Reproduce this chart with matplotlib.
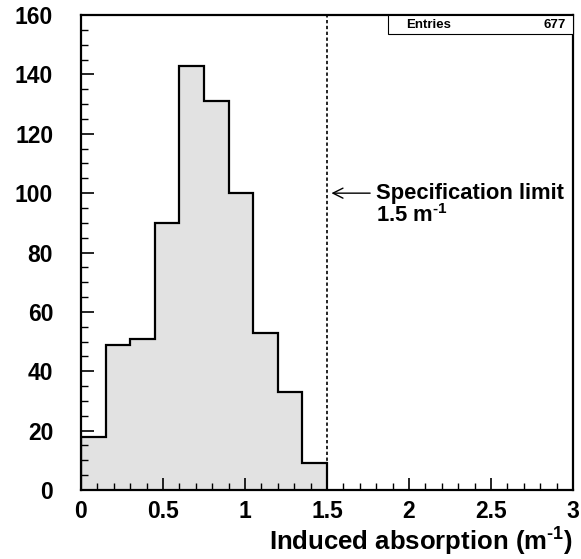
import matplotlib.pyplot as plt
from matplotlib.patches import Rectangle
from matplotlib.ticker import MultipleLocator
import numpy as np

# Data -----
bin_edges = [0, 0.15, 0.3, 0.45, 0.6, 0.75, 0.9, 1.05, 1.2, 1.35, 1.5]
counts = [18, 49, 51, 90, 143, 131, 100, 53, 33, 9]
entries = 677
spec_limit = 1.5

plt.rcParams['font.family'] = ['Liberation Sans', 'DejaVu Sans']
plt.rcParams['font.weight'] = 'bold'
plt.rcParams['mathtext.fontset'] = 'custom'
plt.rcParams['mathtext.rm'] = 'Liberation Sans:bold'
plt.rcParams['mathtext.bf'] = 'Liberation Sans:bold'

fig = plt.figure(figsize=(5.81, 5.59), dpi=100)
ax = fig.add_axes([0.1394, 0.1234, 0.8468, 0.8497])

# Histogram -----
ax.stairs(counts, bin_edges, fill=True, color='#e2e2e2')
ax.stairs(counts, bin_edges, color='black', linewidth=1.6, baseline=None)
ax.plot([bin_edges[0], bin_edges[0]], [0, counts[0]], color='black', linewidth=1.6)
ax.plot([bin_edges[-1], bin_edges[-1]], [0, counts[-1]], color='black', linewidth=1.6)

# Specification limit -----
ax.axvline(spec_limit, color='black', linewidth=1.2, linestyle=(0, (2, 1.5)))
ax.annotate('', xy=(1.51, 100), xytext=(1.78, 100),
            arrowprops=dict(arrowstyle='->', color='black', linewidth=1.0,
                            mutation_scale=18))
ax.text(1.8, 100, 'Specification limit', fontsize=15.8, fontweight='bold',
        va='center', ha='left')
ax.text(1.8, 92.5, r'1.5 m$^{\text{-1}}$', fontsize=15.8, fontweight='bold',
        va='center', ha='left')

# Stats box -----
ax.add_patch(Rectangle((0.623, 0.96), 0.377, 0.04, transform=ax.transAxes,
                       facecolor='white', edgecolor='black', linewidth=0.8,
                       clip_on=False, zorder=5))
ax.text(0.66, 0.98, 'Entries', transform=ax.transAxes, fontsize=9.5,
        fontweight='bold', va='center', ha='left', zorder=6)
ax.text(0.985, 0.98, str(entries), transform=ax.transAxes, fontsize=9.5,
        fontweight='bold', va='center', ha='right', zorder=6)

# Axes -----
ax.set_xlim(0, 3)
ax.set_ylim(0, 160)
ax.xaxis.set_major_locator(MultipleLocator(0.5))
ax.xaxis.set_minor_locator(MultipleLocator(0.1))
ax.yaxis.set_major_locator(MultipleLocator(20))
ax.yaxis.set_minor_locator(MultipleLocator(5))
ax.set_xticks([0, 0.5, 1, 1.5, 2, 2.5, 3])
ax.set_xticklabels(['0', '0.5', '1', '1.5', '2', '2.5', '3'])
ax.tick_params(which='both', direction='in', labelsize=16.5)
ax.tick_params(which='major', length=9, width=1.2)
ax.tick_params(which='minor', length=5, width=1.0)
ax.tick_params(axis='x', which='major', pad=7)
ax.tick_params(axis='y', which='major', pad=20)
for s in ax.spines.values():
    s.set_linewidth(1.6)

ax.set_xlabel(r'Induced absorption (m$^{\text{-1}}$)', fontsize=18.5,
              fontweight='bold', loc='right', labelpad=1)

fig.savefig('out.png', dpi=100)
